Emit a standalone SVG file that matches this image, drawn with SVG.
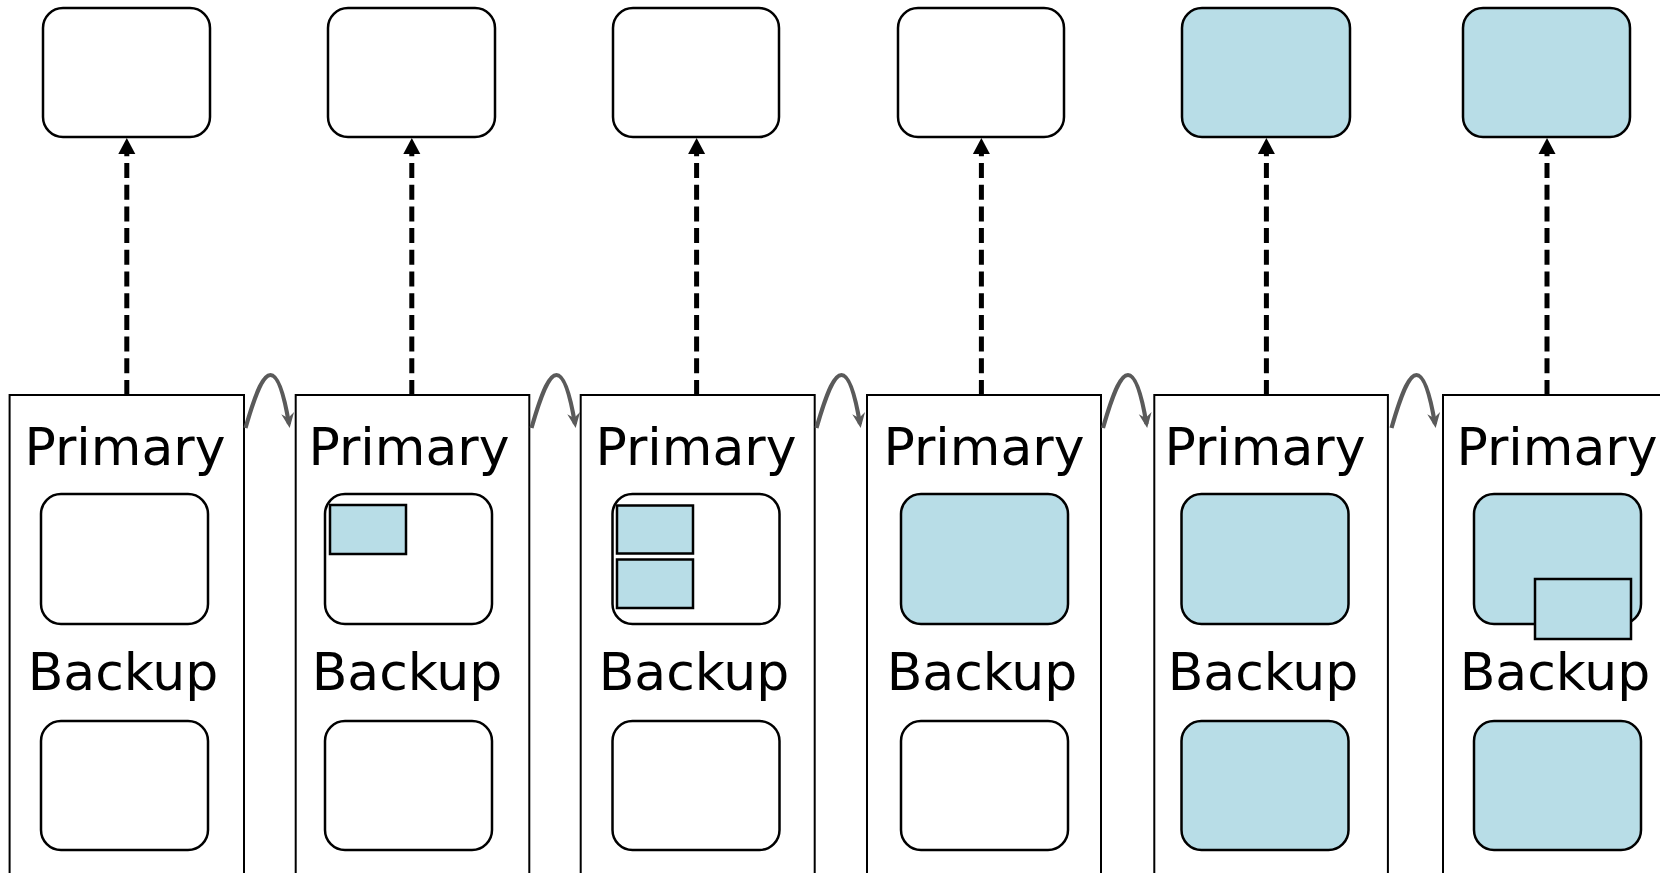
<svg xmlns="http://www.w3.org/2000/svg" width="1660" height="873" viewBox="0 0 1660 873">
<style>
.bg{fill:#ffffff}
.top{stroke:#000;stroke-width:2.5;fill:#fff}
.cont{fill:#fff;stroke:#000;stroke-width:2}
.inner{stroke:#000;stroke-width:2.5;fill:#fff}
.chunk{stroke:#000;stroke-width:2.5;fill:#b8dde7}
.blue{fill:#b8dde7}
.lbl{font-family:"DejaVu Sans","Liberation Sans",sans-serif;font-size:52px;fill:#000;text-anchor:middle}
.dash{stroke:#000;stroke-width:5;stroke-dasharray:15 6.7;fill:none;marker-end:url(#upHead)}
.hop{stroke:#5a5a5a;stroke-width:4.2;fill:none;marker-end:url(#hopHead)}
</style>
<defs>
<marker id="upHead" markerUnits="userSpaceOnUse" markerWidth="20" markerHeight="20" viewBox="0 -10 20 20" refX="0" refY="0" orient="auto">
<path d="M0,-8.5 L16,0 L0,8.5 Z" fill="#000"/>
</marker>
<marker id="hopHead" markerUnits="userSpaceOnUse" markerWidth="24" markerHeight="24" viewBox="-16 -12 24 24" refX="0" refY="0" orient="auto">
<path d="M4,0 L-11,-7 L-6,0 L-11,6 Z" fill="#5a5a5a"/>
</marker>
</defs>
<rect class="bg" x="0" y="0" width="1660" height="873"/>

<g id="client1"><rect class="top" x="43" y="8" width="167" height="129" rx="20"/></g>
<g id="client2"><rect class="top" x="328" y="8" width="167" height="129" rx="20"/></g>
<g id="client3"><rect class="top" x="613" y="8" width="166" height="129" rx="20"/></g>
<g id="client4"><rect class="top" x="898" y="8" width="166" height="129" rx="20"/></g>
<g id="client5"><rect class="top blue" x="1182" y="8" width="168" height="129" rx="20"/></g>
<g id="client6"><rect class="top blue" x="1463" y="8" width="167" height="129" rx="20"/></g>

<g id="state1">
<rect class="cont" x="9.6" y="395" width="234.4" height="490"/>
<text class="lbl" x="125" y="465">Primary</text>
<rect class="inner" x="41" y="494" width="167" height="130" rx="20"/>
<text class="lbl" x="123" y="690">Backup</text>
<rect class="inner" x="41" y="721" width="167" height="129" rx="20"/>
</g>
<g id="state2">
<rect class="cont" x="295.7" y="395" width="233.6" height="490"/>
<text class="lbl" x="409" y="465">Primary</text>
<rect class="inner" x="325" y="494" width="167" height="130" rx="20"/>
<rect class="chunk" x="330" y="505" width="76" height="49"/>
<text class="lbl" x="407" y="690">Backup</text>
<rect class="inner" x="325" y="721" width="167" height="129" rx="20"/>
</g>
<g id="state3">
<rect class="cont" x="580.7" y="395" width="234" height="490"/>
<text class="lbl" x="696" y="465">Primary</text>
<rect class="inner" x="612.5" y="494" width="167" height="130" rx="20"/>
<rect class="chunk" x="617" y="505.5" width="76" height="48"/>
<rect class="chunk" x="617" y="559.5" width="76" height="48.5"/>
<text class="lbl" x="694" y="690">Backup</text>
<rect class="inner" x="612.5" y="721" width="167" height="129" rx="20"/>
</g>
<g id="state4">
<rect class="cont" x="867" y="395" width="234" height="490"/>
<text class="lbl" x="984" y="465">Primary</text>
<rect class="inner blue" x="901" y="494" width="167" height="130" rx="20"/>
<text class="lbl" x="982" y="690">Backup</text>
<rect class="inner" x="901" y="721" width="167" height="129" rx="20"/>
</g>
<g id="state5">
<rect class="cont" x="1154.3" y="395" width="233.6" height="490"/>
<text class="lbl" x="1265" y="465">Primary</text>
<rect class="inner blue" x="1181.5" y="494" width="167" height="130" rx="20"/>
<text class="lbl" x="1263" y="690">Backup</text>
<rect class="inner blue" x="1181.5" y="721" width="167" height="129" rx="20"/>
</g>
<g id="state6">
<rect class="cont" x="1443" y="395" width="234" height="490"/>
<text class="lbl" x="1557" y="465">Primary</text>
<rect class="inner blue" x="1474" y="494" width="167" height="130" rx="20"/>
<rect class="chunk" x="1535" y="579" width="96" height="60"/>
<text class="lbl" x="1555" y="690">Backup</text>
<rect class="inner blue" x="1474" y="721" width="167" height="129" rx="20"/>
</g>

<g id="connectors">
<line class="dash" x1="126.8" y1="395" x2="126.8" y2="154"/>
<line class="dash" x1="411.8" y1="395" x2="411.8" y2="154"/>
<line class="dash" x1="696.6" y1="395" x2="696.6" y2="154"/>
<line class="dash" x1="981.4" y1="395" x2="981.4" y2="154"/>
<line class="dash" x1="1266.4" y1="395" x2="1266.4" y2="154"/>
<line class="dash" x1="1547" y1="395" x2="1547" y2="154"/>
<path class="hop" d="M245.5,428 C257,388 264,375 270.5,375 C278,375 284,394 289,424"/>
<path class="hop" d="M531.5,428 C543,388 550,375 556.5,375 C564,375 570,394 575,424"/>
<path class="hop" d="M816.5,428 C828,388 835,375 841.5,375 C849,375 855,394 860,424"/>
<path class="hop" d="M1103,428 C1114.5,388 1121.5,375 1128,375 C1135.5,375 1141.5,394 1146.5,424"/>
<path class="hop" d="M1391.5,428 C1403,388 1410,375 1416.5,375 C1424,375 1430,394 1435,424"/>
</g>
</svg>
